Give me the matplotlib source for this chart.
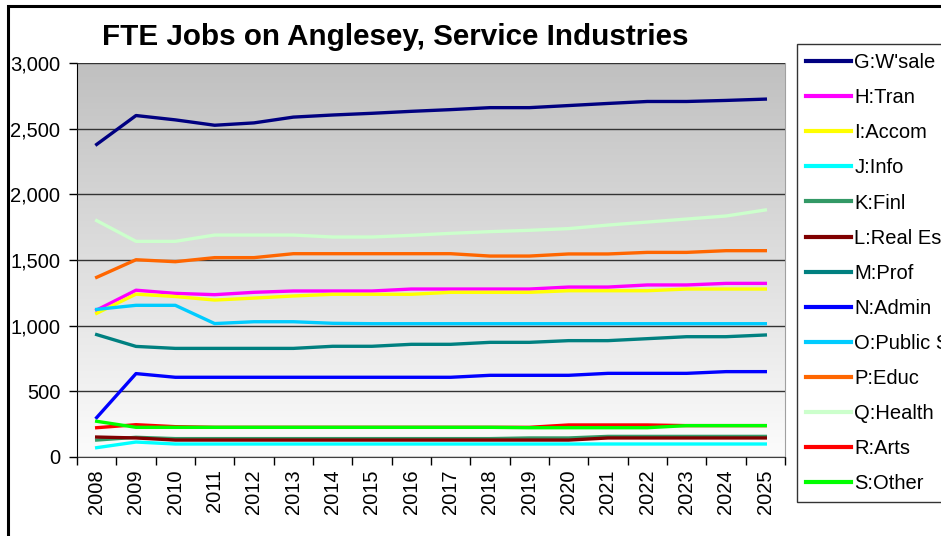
import numpy as np
import matplotlib.pyplot as plt
from matplotlib.colors import LinearSegmentedColormap
from matplotlib.patches import Rectangle

plt.rcParams['font.family'] = ['Liberation Sans', 'DejaVu Sans']

years = list(range(2008, 2026))

g_wsale = [2380, 2600, 2567, 2526, 2544, 2588, 2604, 2617, 2632, 2645, 2660, 2660, 2676, 2692, 2707, 2707, 2715, 2725]
h_tran = [1119, 1270, 1246, 1236, 1254, 1264, 1264, 1264, 1279, 1279, 1279, 1279, 1294, 1294, 1310, 1310, 1322, 1322]
i_accom = [1094, 1240, 1222, 1195, 1210, 1226, 1239, 1239, 1239, 1254, 1254, 1254, 1266, 1266, 1266, 1279, 1279, 1279]
j_info = [71, 114, 99, 99, 99, 99, 99, 99, 99, 99, 99, 99, 99, 99, 99, 99, 99, 99]
k_finl = [129, 150, 140, 140, 140, 140, 140, 140, 140, 140, 140, 145, 145, 157, 157, 157, 157, 157]
l_realest = [152, 145, 129, 129, 129, 129, 129, 129, 129, 129, 129, 129, 129, 145, 145, 145, 145, 145]
m_prof = [932, 842, 827, 827, 827, 827, 843, 843, 858, 858, 873, 873, 886, 886, 901, 916, 916, 929]
n_admin = [300, 635, 607, 607, 607, 607, 607, 607, 607, 607, 622, 622, 622, 637, 637, 637, 650, 650]
o_public = [1124, 1155, 1155, 1016, 1030, 1030, 1018, 1015, 1015, 1015, 1015, 1015, 1015, 1015, 1015, 1015, 1015, 1015]
p_educ = [1368, 1502, 1487, 1518, 1518, 1548, 1548, 1548, 1548, 1548, 1530, 1530, 1546, 1546, 1558, 1558, 1571, 1571]
q_health = [1800, 1642, 1642, 1690, 1690, 1690, 1675, 1675, 1688, 1703, 1716, 1726, 1739, 1766, 1789, 1812, 1835, 1881]
r_arts = [223, 246, 231, 226, 226, 226, 226, 226, 226, 226, 226, 226, 244, 244, 244, 239, 239, 239]
s_other = [272, 226, 226, 226, 226, 226, 226, 226, 226, 226, 226, 223, 223, 223, 223, 239, 239, 239]

series = [
    ("G:W'sale", g_wsale, '#000080'),
    ("H:Tran", h_tran, '#FF00FF'),
    ("I:Accom", i_accom, '#FFFF00'),
    ("J:Info", j_info, '#00FFFF'),
    ("K:Finl", k_finl, '#339966'),
    ("L:Real Est", l_realest, '#800000'),
    ("M:Prof", m_prof, '#008080'),
    ("N:Admin", n_admin, '#0000FF'),
    ("O:Public S", o_public, '#00CCFF'),
    ("P:Educ", p_educ, '#FF6600'),
    ("Q:Health", q_health, '#CCFFCC'),
    ("R:Arts", r_arts, '#FF0000'),
    ("S:Other", s_other, '#00FF00'),
]

W, H = 941, 536
fig = plt.figure(figsize=(W / 100, H / 100), dpi=100)
fig.patch.set_facecolor('white')

ax = fig.add_axes([77 / W, 1 - 457 / H, (785 - 77) / W, (457 - 63) / H])

# plot area fill: white at the bottom fading to grey at the top
grad = np.linspace(0, 1, 256).reshape(-1, 1)
bg_cmap = LinearSegmentedColormap.from_list('bg', ['#FCFCFC', '#C0C0C0'])
ax.imshow(grad, cmap=bg_cmap, aspect='auto', origin='lower',
          extent=(-0.5, len(years) - 0.5, 0, 3000), zorder=0)

x = np.arange(len(years))
for name, vals, col in series:
    ax.plot(x, vals, color=col, lw=2.4, label=name, zorder=3)

ax.set_xlim(-0.5, len(years) - 0.5)
ax.set_ylim(0, 3000)
ax.set_yticks(np.arange(0, 3001, 500))
ax.set_yticklabels([f'{v:,}' for v in range(0, 3001, 500)])
ax.yaxis.grid(True, color='#333333', lw=1.0, zorder=1)
ax.set_axisbelow(False)

ax.set_xticks(x)
ax.set_xticklabels([str(y) for y in years], rotation=90)
ax.set_xticks(np.arange(-0.5, len(years)), minor=True)
ax.tick_params(axis='x', which='major', length=0, pad=9, labelsize=14.5)
ax.tick_params(axis='x', which='minor', length=6, width=1, direction='out')
ax.tick_params(axis='y', length=6, width=1, direction='out', pad=6, labelsize=14.5)

ax.spines['top'].set_visible(False)
ax.spines['right'].set_color('#A0A0A0')
ax.spines['left'].set_color('black')
ax.spines['bottom'].set_color('#404040')

fig.text(395 / W, 1 - 37 / H, 'FTE Jobs on Anglesey, Service Industries',
         ha='center', va='center', fontsize=21.3, fontweight='bold')

leg = fig.legend(loc='upper left', bbox_to_anchor=(797 / W, 1 - 44 / H),
                 bbox_transform=fig.transFigure, borderaxespad=0,
                 fontsize=14.5, frameon=True, fancybox=False,
                 handlelength=2.25, handletextpad=0.15, labelspacing=0.8,
                 borderpad=0.45)
leg.get_frame().set_edgecolor('black')
leg.get_frame().set_linewidth(1.0)
for ln in leg.get_lines():
    ln.set_linewidth(3)

# outer chart border
fig.patches.append(Rectangle((8 / W, -0.1), 1.2, 1.1 - 6 / H,
                             transform=fig.transFigure, fill=False,
                             edgecolor='black', lw=2.2, clip_on=False))

fig.savefig('out.png', dpi=100)
